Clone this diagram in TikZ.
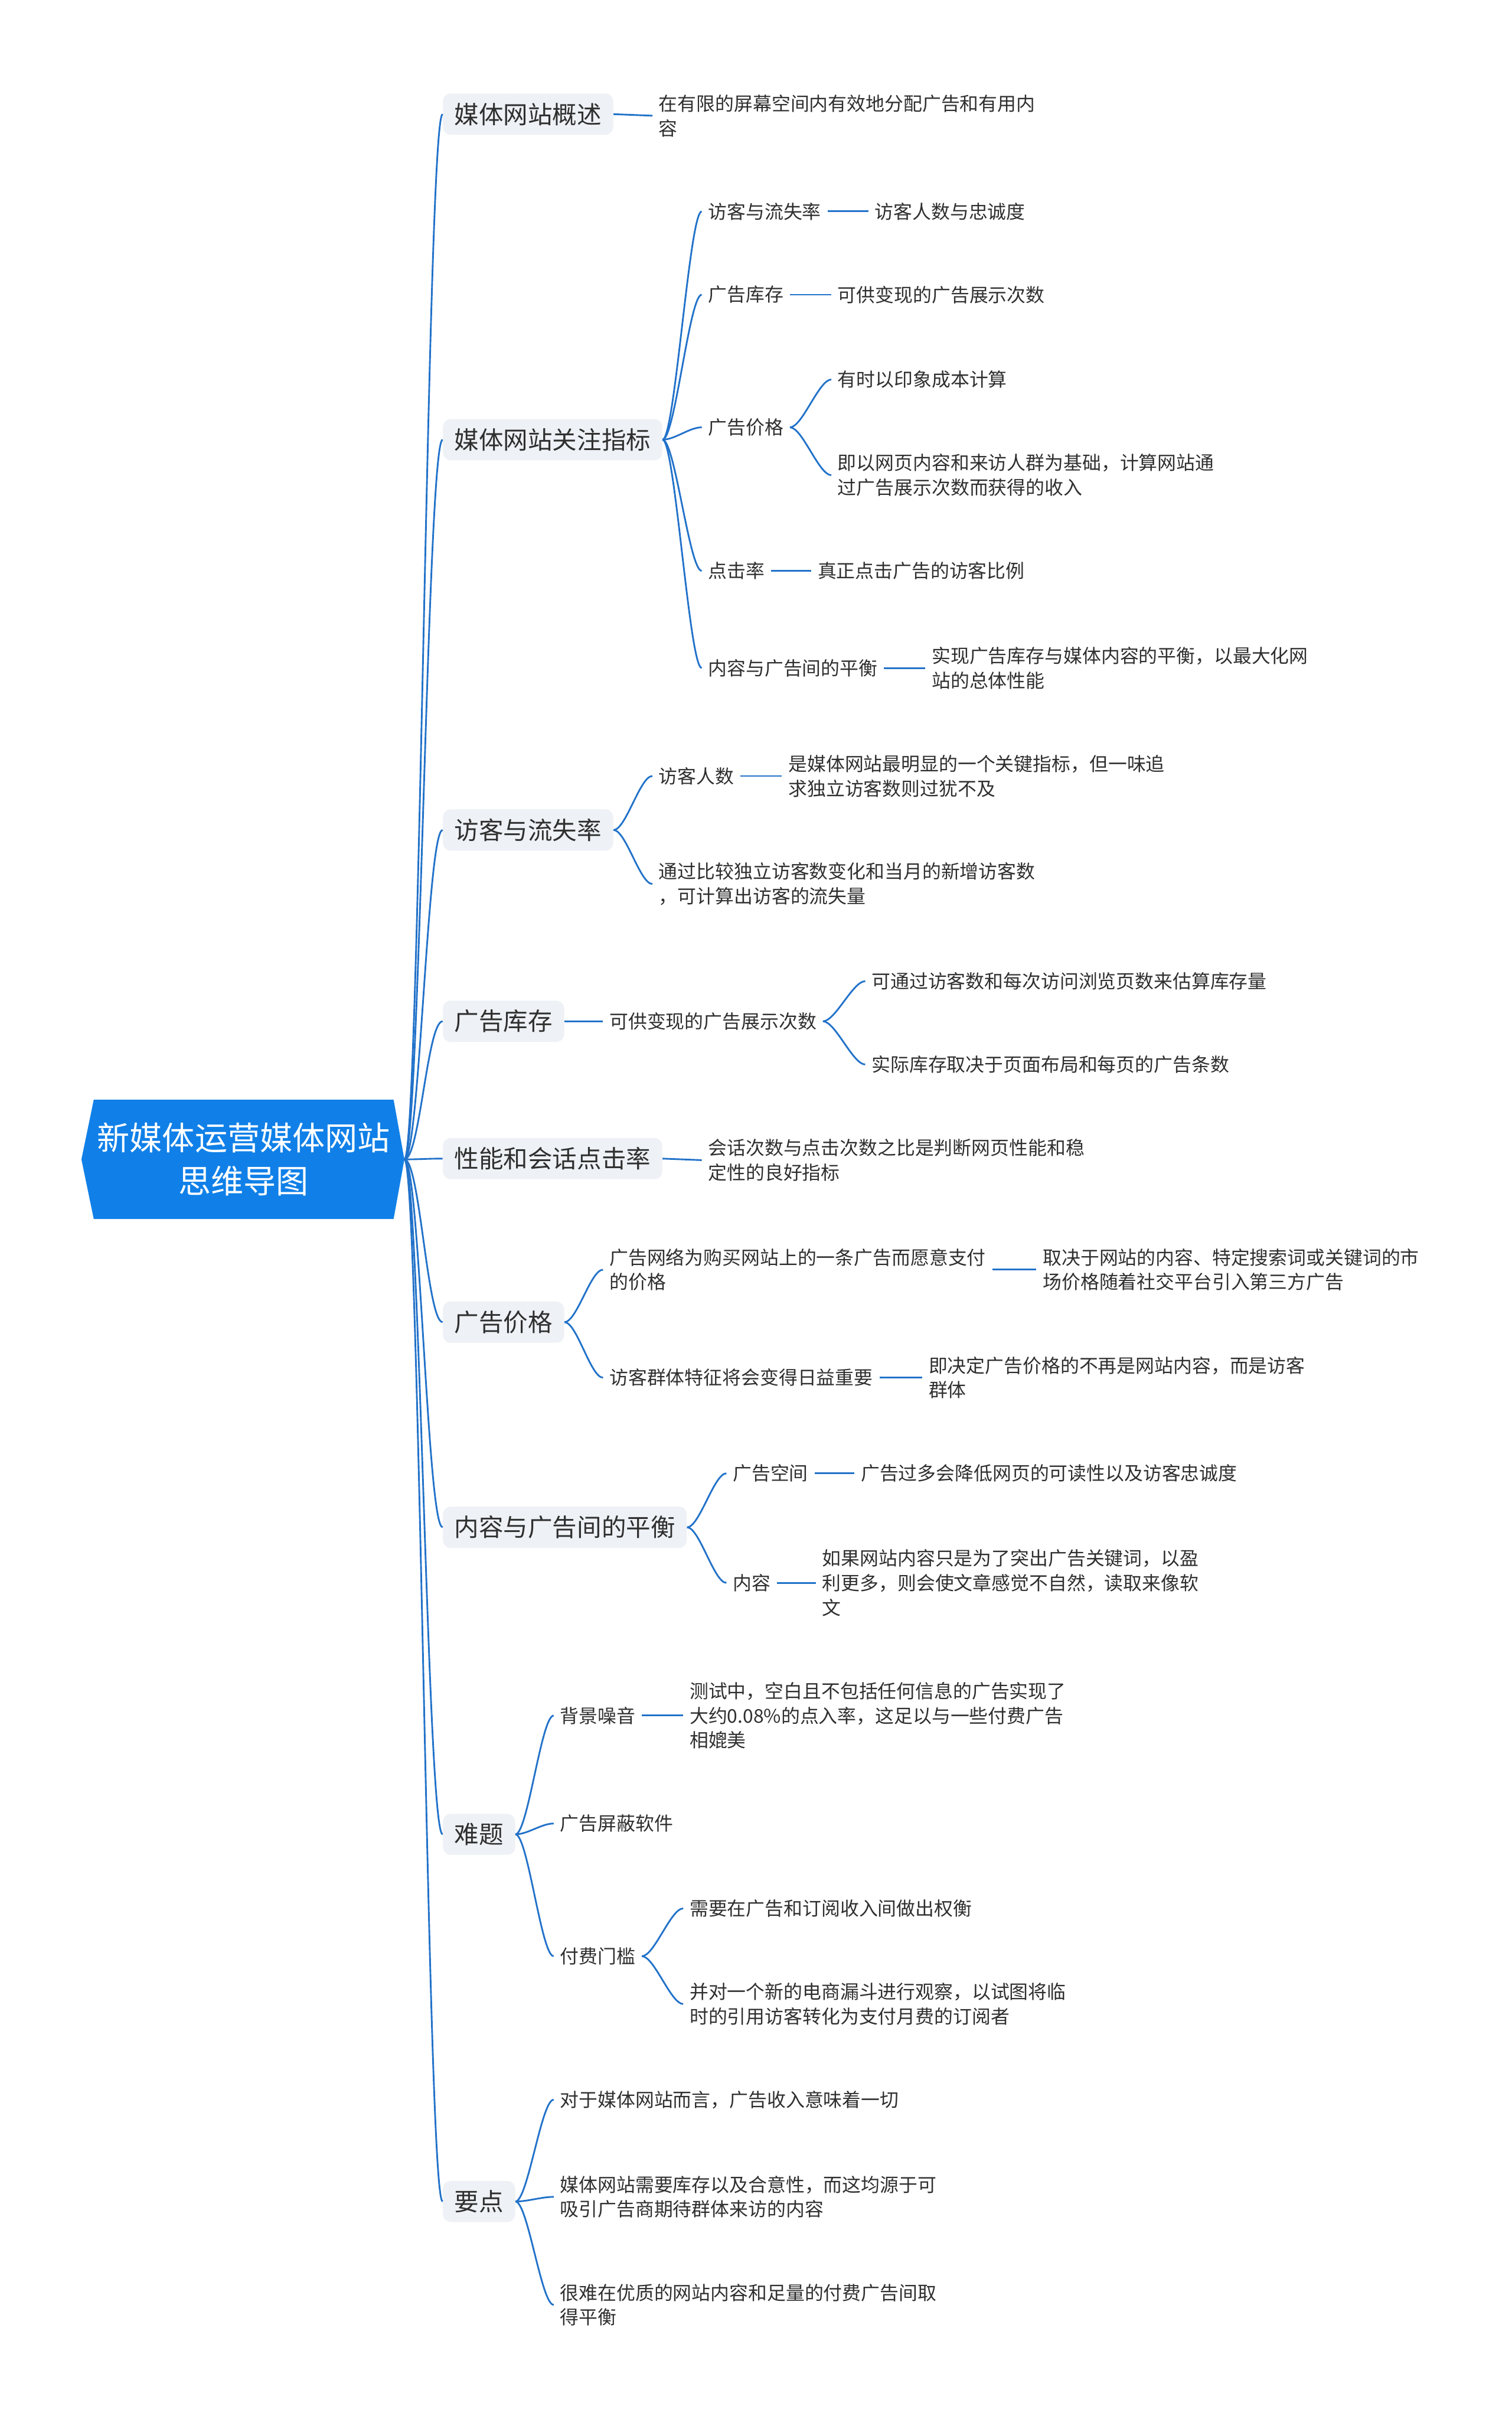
\documentclass[tikz,border=0pt]{standalone}
\usepackage{fontspec}
\setmainfont{Noto Sans CJK SC}
\usetikzlibrary{backgrounds}

\definecolor{linkblue}{HTML}{2272C9}
\definecolor{rootblue}{HTML}{1080E8}
\definecolor{boxgray}{HTML}{EEF1F5}
\definecolor{txtgray}{HTML}{2F2F2F}

\tikzset{
  main/.style={fill=boxgray, rounded corners=5pt, inner xsep=7.5pt, inner ysep=6pt,
    anchor=west, text=txtgray, font=\fontsize{15.9}{19}\selectfont},
  leaf/.style={inner xsep=4pt, inner ysep=1pt, anchor=west, align=left,
    text=txtgray, font=\fontsize{12.2}{16}\selectfont},
  link/.style={draw=linkblue, line width=1.1pt},
}

\begin{document}
\begin{tikzpicture}[x=1pt, y=-1pt]
    \useasboundingbox (0,0) rectangle (980,1568);

    % Root
    \node[minimum width=194pt, minimum height=77pt, inner sep=0pt, align=center,
        text=white, font=\fontsize{21.1}{28}\selectfont] (root) at (158,751.5)
        {新媒体运营媒体网站\\思维导图};
    \begin{scope}[on background layer]
        \fill[rootblue] (root.north west) -- (root.north east) -- ([xshift=7pt]root.east)
            -- (root.south east) -- (root.south west) -- ([xshift=-8pt]root.west) -- cycle;
    \end{scope}
    \coordinate (tip) at ([xshift=7pt]root.east);

    % Main branches
    \node[main] (m1) at (287,74)   {媒体网站概述};
    \node[main] (m2) at (287,285)  {媒体网站关注指标};
    \node[main] (m3) at (287,538)  {访客与流失率};
    \node[main] (m4) at (287,662)  {广告库存};
    \node[main] (m5) at (287,751)  {性能和会话点击率};
    \node[main] (m6) at (287,857)  {广告价格};
    \node[main] (m7) at (287,990)  {内容与广告间的平衡};
    \node[main] (m8) at (287,1189) {难题};
    \node[main] (m9) at (287,1427) {要点};

    \foreach \m in {m1,m2,m3,m4,m5,m6,m7,m8,m9}
        \draw[link] (tip) .. controls +(10,0) and +(-10,0) .. (\m.west);

    % 媒体网站概述
    \node[leaf] (a1) at (423,75) {在有限的屏幕空间内有效地分配广告和有用内\\容};
    \draw[link] (m1.east) -- (a1.west);

    % 媒体网站关注指标
    \node[leaf] (b1) at (455,137) {访客与流失率};
    \node[leaf] (b2) at (455,191) {广告库存};
    \node[leaf] (b3) at (455,277) {广告价格};
    \node[leaf] (b4) at (455,370) {点击率};
    \node[leaf] (b5) at (455,433) {内容与广告间的平衡};
    \foreach \c in {b1,b2,b3,b4,b5}
        \draw[link] (m2.east) .. controls +(8,0) and +(-8,0) .. (\c.west);

    \node[leaf] (b1a) at (563,137) {访客人数与忠诚度};
    \node[leaf] (b2a) at (539,191) {可供变现的广告展示次数};
    \node[leaf] (b3a) at (539,246) {有时以印象成本计算};
    \node[leaf] (b3b) at (539,308) {即以网页内容和来访人群为基础，计算网站通\\过广告展示次数而获得的收入};
    \node[leaf] (b4a) at (526,370) {真正点击广告的访客比例};
    \node[leaf] (b5a) at (600,433) {实现广告库存与媒体内容的平衡，以最大化网\\站的总体性能};
    \draw[link] (b1.east) -- (b1a.west);
    \draw[link] (b2.east) -- (b2a.west);
    \draw[link] (b4.east) -- (b4a.west);
    \draw[link] (b5.east) -- (b5a.west);
    \foreach \c in {b3a,b3b}
        \draw[link] (b3.east) .. controls +(8,0) and +(-8,0) .. (\c.west);

    % 访客与流失率
    \node[leaf] (c1) at (423,503) {访客人数};
    \node[leaf] (c2) at (423,573) {通过比较独立访客数变化和当月的新增访客数\\，可计算出访客的流失量};
    \node[leaf] (c1a) at (507,503) {是媒体网站最明显的一个关键指标，但一味追\\求独立访客数则过犹不及};
    \foreach \c in {c1,c2}
        \draw[link] (m3.east) .. controls +(8,0) and +(-8,0) .. (\c.west);
    \draw[link] (c1.east) -- (c1a.west);

    % 广告库存
    \node[leaf] (d1) at (391,662) {可供变现的广告展示次数};
    \node[leaf] (d1a) at (561,636) {可通过访客数和每次访问浏览页数来估算库存量};
    \node[leaf] (d1b) at (561,690) {实际库存取决于页面布局和每页的广告条数};
    \draw[link] (m4.east) -- (d1.west);
    \foreach \c in {d1a,d1b}
        \draw[link] (d1.east) .. controls +(8,0) and +(-8,0) .. (\c.west);

    % 性能和会话点击率
    \node[leaf] (e1) at (455,752) {会话次数与点击次数之比是判断网页性能和稳\\定性的良好指标};
    \draw[link] (m5.east) -- (e1.west);

    % 广告价格
    \node[leaf] (f1) at (391,823) {广告网络为购买网站上的一条广告而愿意支付\\的价格};
    \node[leaf] (f2) at (391,893) {访客群体特征将会变得日益重要};
    \node[leaf] (f1a) at (672,823) {取决于网站的内容、特定搜索词或关键词的市\\场价格随着社交平台引入第三方广告};
    \node[leaf] (f2a) at (598,893) {即决定广告价格的不再是网站内容，而是访客\\群体};
    \foreach \c in {f1,f2}
        \draw[link] (m6.east) .. controls +(8,0) and +(-8,0) .. (\c.west);
    \draw[link] (f1.east) -- (f1a.west);
    \draw[link] (f2.east) -- (f2a.west);

    % 内容与广告间的平衡
    \node[leaf] (g1) at (471,955) {广告空间};
    \node[leaf] (g2) at (471,1026) {内容};
    \node[leaf] (g1a) at (554,955) {广告过多会降低网页的可读性以及访客忠诚度};
    \node[leaf] (g2a) at (529,1026) {如果网站内容只是为了突出广告关键词，以盈\\利更多，则会使文章感觉不自然，读取来像软\\文};
    \foreach \c in {g1,g2}
        \draw[link] (m7.east) .. controls +(8,0) and +(-8,0) .. (\c.west);
    \draw[link] (g1.east) -- (g1a.west);
    \draw[link] (g2.east) -- (g2a.west);

    % 难题
    \node[leaf] (h1) at (359,1112) {背景噪音};
    \node[leaf] (h2) at (359,1182) {广告屏蔽软件};
    \node[leaf] (h3) at (359,1268) {付费门槛};
    \node[leaf] (h1a) at (443,1112) {测试中，空白且不包括任何信息的广告实现了\\大约0.08\%的点入率，这足以与一些付费广告\\相媲美};
    \node[leaf] (h3a) at (443,1237) {需要在广告和订阅收入间做出权衡};
    \node[leaf] (h3b) at (443,1299) {并对一个新的电商漏斗进行观察，以试图将临\\时的引用访客转化为支付月费的订阅者};
    \foreach \c in {h1,h2,h3}
        \draw[link] (m8.east) .. controls +(8,0) and +(-8,0) .. (\c.west);
    \draw[link] (h1.east) -- (h1a.west);
    \foreach \c in {h3a,h3b}
        \draw[link] (h3.east) .. controls +(8,0) and +(-8,0) .. (\c.west);

    % 要点
    \node[leaf] (k1) at (359,1361) {对于媒体网站而言，广告收入意味着一切};
    \node[leaf] (k2) at (359,1424) {媒体网站需要库存以及合意性，而这均源于可\\吸引广告商期待群体来访的内容};
    \node[leaf] (k3) at (359,1494) {很难在优质的网站内容和足量的付费广告间取\\得平衡};
    \foreach \c in {k1,k2,k3}
        \draw[link] (m9.east) .. controls +(8,0) and +(-8,0) .. (\c.west);

\end{tikzpicture}
\end{document}
